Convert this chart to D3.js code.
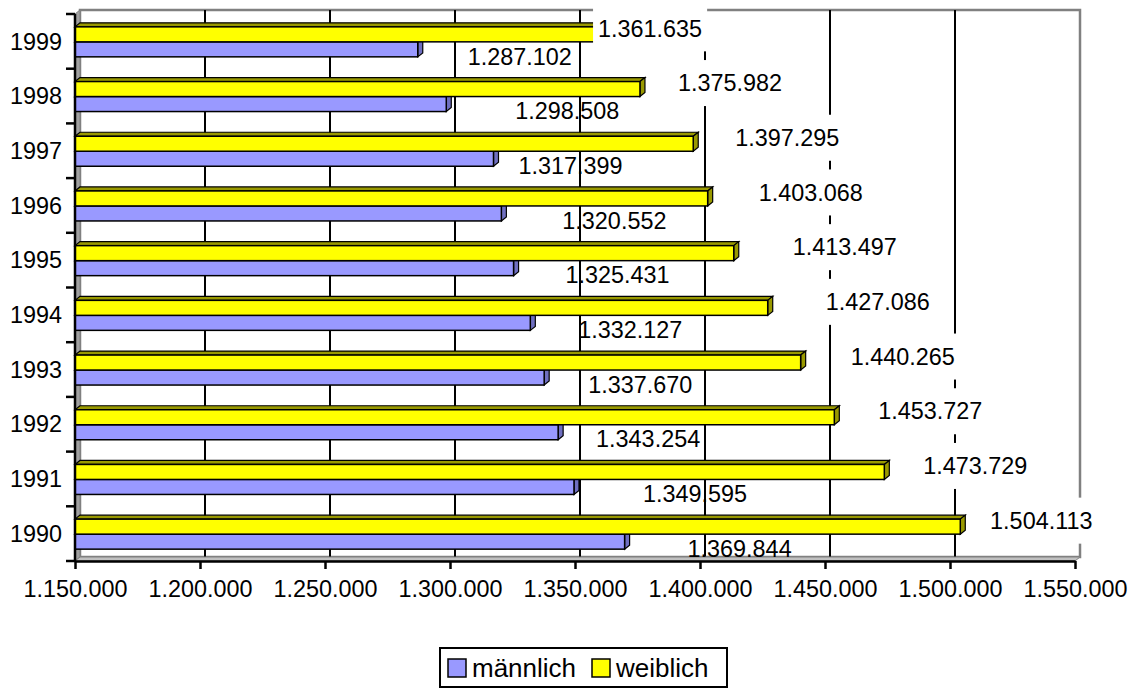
<!DOCTYPE html>
<html>
<head>
<meta charset="utf-8">
<script src="https://cdnjs.cloudflare.com/ajax/libs/d3/7.8.5/d3.min.js"></script>
<style>
  body { margin: 0; background: #fff; }
  text { font-family: "Liberation Sans", Arial, sans-serif; fill: #000; }
</style>
</head>
<body>
<div id="chart"></div>
<script>
// data
const years = [1999, 1998, 1997, 1996, 1995, 1994, 1993, 1992, 1991, 1990];
const weiblich = [1361635, 1375982, 1397295, 1403068, 1413497, 1427086, 1440265, 1453727, 1473729, 1504113];
const maennlich = [1287102, 1298508, 1317399, 1320552, 1325431, 1332127, 1337670, 1343254, 1349595, 1369844];
const xTicks = [1150000, 1200000, 1250000, 1300000, 1350000, 1400000, 1450000, 1500000, 1550000];
const seriesNames = ['männlich', 'weiblich'];

// layout
const W = 1134, H = 689;
const DX = 5, DY = 4;          // 3d depth
const barH = 15;
const fs = 23.4;
// label nudges (excel places them a bit oddly)
const wLabelDx = [46, 90, 94, 103, 111, 110, 102, 96, 91, 81];
const mLabelDx = [102, 121, 77, 113, 104, 100, 96, 90, 121, 115];

const col = {
    blue: '#9999ff', blueDark: '#6f6fc0',
    yellow: '#ffff00', yellowDark: '#999900',
    wall: '#808080'
};

const fmt = d3.formatLocale({decimal: ',', thousands: '.', grouping: [3], currency: ['', '']}).format(',');

const svg = d3.select('#chart').append('svg')
    .attr('width', W)
    .attr('height', H);

const x = d3.scaleLinear().domain([1150000, 1550000]).range([75, 1075]);
const y = d3.scaleBand().domain(years).range([14, 561]);
const [x0, x1] = x.range();
const [y0, y1] = y.range();

// back wall
const wall = svg.append('g');
wall.append('rect')
    .attr('x', x0 + DX).attr('y', y0 - DY)
    .attr('width', x1 - x0).attr('height', y1 - y0)
    .attr('fill', '#fff')
    .attr('stroke', col.wall).attr('stroke-width', 2.5);

// gridlines on back wall
wall.selectAll('.grid')
    .data(xTicks.slice(1, -1))
    .enter()
    .append('line')
    .attr('x1', d => x(d) + DX).attr('x2', d => x(d) + DX)
    .attr('y1', y0 - DY).attr('y2', y1 - DY)
    .attr('stroke', '#000').attr('stroke-width', 2);

// side wall + floor
wall.append('path')
    .attr('d', `M${x0},${y0} L${x0 + DX},${y0 - DY} L${x0 + DX},${y1 - DY} L${x0},${y1} Z`)
    .attr('fill', '#a0a0a0').attr('stroke', col.wall).attr('stroke-width', 1);
wall.append('path')
    .attr('d', `M${x0},${y1} L${x0 + DX},${y1 - DY} L${x1 + DX},${y1 - DY} L${x1},${y1} Z`)
    .attr('fill', '#c0c0c0').attr('stroke', col.wall).attr('stroke-width', 1);

// bars
const rows = years.map((yr, i) => ({year: yr, w: weiblich[i], m: maennlich[i], i: i}));
const yc = d => y(d.year) + y.bandwidth() / 2 + 0.5;

function drawBar(g, xe, top, bot, fill, dark) {
    g.append('path')
        .attr('d', `M${x0},${top} L${x0 + DX},${top - DY} L${xe + DX},${top - DY} L${xe},${top} Z`)
        .attr('fill', dark).attr('stroke', '#000').attr('stroke-width', 1.2);
    g.append('path')
        .attr('d', `M${xe},${top} L${xe + DX},${top - DY} L${xe + DX},${bot - DY} L${xe},${bot} Z`)
        .attr('fill', dark).attr('stroke', '#000').attr('stroke-width', 1.2);
    g.append('rect')
        .attr('x', x0).attr('y', top)
        .attr('width', xe - x0).attr('height', bot - top)
        .attr('fill', fill).attr('stroke', '#000').attr('stroke-width', 1.5);
}

const bars = svg.append('g');
rows.forEach(d => {
    const c = yc(d);
    const g = bars.append('g');
    drawBar(g, x(d.m), c, c + barH, col.blue, col.blueDark);
    drawBar(g, x(d.w), c - barH, c, col.yellow, col.yellowDark);
});

// x axis
const xAxis = svg.append('g')
    .attr('transform', `translate(0,${y1})`)
    .call(d3.axisBottom(x).tickValues(xTicks).tickFormat(fmt).tickSize(8).tickSizeOuter(0));
xAxis.select('.domain').attr('stroke', '#000').attr('stroke-width', 2.5);
xAxis.selectAll('.tick line').attr('stroke', '#000').attr('stroke-width', 2.5);
xAxis.selectAll('.tick text')
    .attr('dy', null).attr('y', 36)
    .style('font-size', fs + 'px')
    .style('font-family', '"Liberation Sans", Arial, sans-serif')
    .attr('fill', '#000');

// y axis
const yAxis = svg.append('g');
yAxis.append('line')
    .attr('x1', x0).attr('x2', x0).attr('y1', y0).attr('y2', y1)
    .attr('stroke', '#000').attr('stroke-width', 2.5);
const bounds = years.map(d => y(d)).concat([y1]);
yAxis.selectAll('.yt')
    .data(bounds)
    .enter()
    .append('line')
    .attr('x1', x0 - 9).attr('x2', x0)
    .attr('y1', d => d).attr('y2', d => d)
    .attr('stroke', '#000').attr('stroke-width', 2.5);
yAxis.selectAll('.yl')
    .data(years)
    .enter()
    .append('text')
    .attr('x', 62)
    .attr('y', d => y(d) + y.bandwidth() / 2)
    .attr('dy', '0.35em')
    .attr('text-anchor', 'end')
    .style('font-size', fs + 'px')
    .text(d => d);

// value labels männlich (no background)
const labels = svg.append('g');
labels.selectAll('.ml')
    .data(rows)
    .enter()
    .append('text')
    .attr('x', d => x(d.m) + mLabelDx[d.i])
    .attr('y', d => yc(d) + barH / 2 + 7)
    .attr('dy', '0.35em')
    .attr('text-anchor', 'middle')
    .style('font-size', fs + 'px')
    .text(d => fmt(d.m));

// value labels weiblich (white box)
rows.forEach(d => {
    const cx = x(d.w) + wLabelDx[d.i];
    const cy = yc(d) - barH / 2 - 6;
    const g = labels.append('g');
    const box = g.append('rect');
    const t = g.append('text')
        .attr('x', cx).attr('y', cy)
        .attr('dy', '0.35em')
        .attr('text-anchor', 'middle')
        .style('font-size', fs + 'px')
        .text(fmt(d.w));
    const tw = t.node().getComputedTextLength();
    box.attr('x', cx - tw / 2 - 5).attr('y', cy - 23)
        .attr('width', tw + 10).attr('height', 46)
        .attr('fill', '#fff');
});

// legend
const legend = svg.append('g');
legend.append('rect')
    .attr('x', 440).attr('y', 648).attr('width', 287).attr('height', 39)
    .attr('fill', '#fff').attr('stroke', '#000').attr('stroke-width', 2);
const legX = [448, 592];
const legCol = [col.blue, col.yellow];
seriesNames.forEach((s, i) => {
    legend.append('rect')
        .attr('x', legX[i]).attr('y', 659).attr('width', 18).attr('height', 18)
        .attr('fill', legCol[i]).attr('stroke', '#000').attr('stroke-width', 1.5);
    legend.append('text')
        .attr('x', legX[i] + 24).attr('y', 668)
        .attr('dy', '0.35em')
        .style('font-size', '26px')
        .text(s);
});
</script>
</body>
</html>
